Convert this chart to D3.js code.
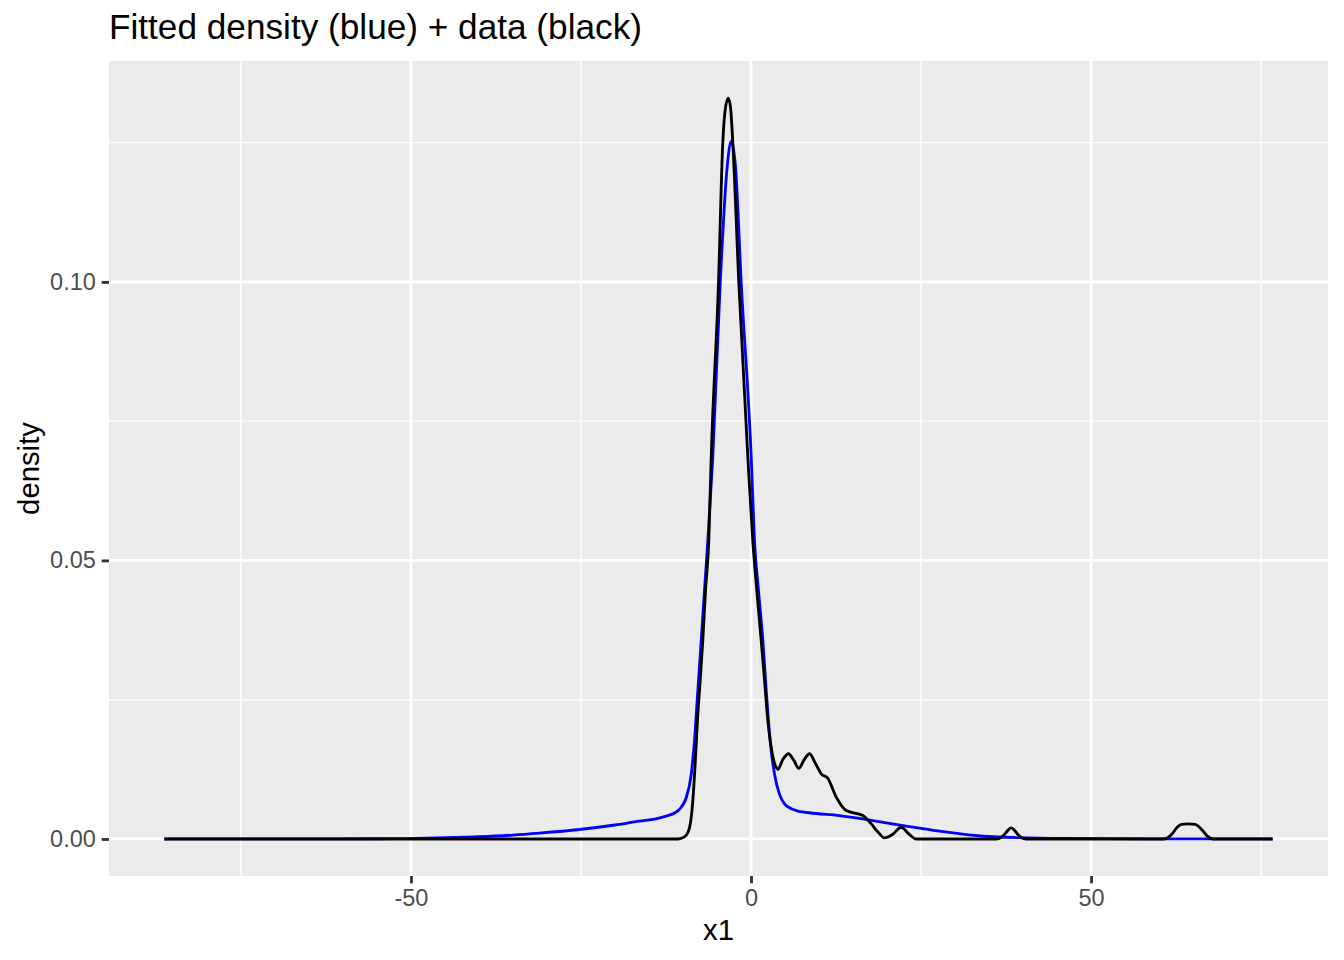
<!DOCTYPE html>
<html>
<head>
<meta charset="utf-8">
<script src="https://cdn.jsdelivr.net/npm/d3@7"></script>
<style>
  body { margin: 0; background: #fff; }
  text { font-family: "Liberation Sans", Arial, Helvetica, sans-serif; }
</style>
</head>
<body>
<div id="chart"></div>
<script>
// fitted density (blue)
var blueX = [-86.25, -60, -52.7, -46.3, -40, -35, -31.1, -25.2, -20, -16.4, -14, -12.47, -11.5, -10.8, -10.26, -9.53,
  -8.79, -8.31, -7.82, -7.32, -6.84, -6.35, -5.62, -4.53, -3.5, -2.91, -2.28, -1.44, 0.03, 0.51, 1.1, 1.74,
  2.24, 2.82, 3.46, 4.19, 4.93, 5.66, 6.65, 8.6, 13.01, 17.91, 22.82, 27.72, 35.56, 46.35, 60.96, 76.69];
var blueY = [0, 0.00002, 0.00005, 0.0002, 0.0004, 0.0007, 0.00105, 0.0017, 0.0025, 0.0032, 0.0036, 0.0041, 0.0045, 0.0050, 0.0057, 0.0074,
  0.0116, 0.0176, 0.0266, 0.0356, 0.0446, 0.0535, 0.0686, 0.0998, 0.1207, 0.1252, 0.1207, 0.0998, 0.0686, 0.0535, 0.0446, 0.0356,
  0.0266, 0.0176, 0.0116, 0.008, 0.0063, 0.0056, 0.0051, 0.0047, 0.0042, 0.0033, 0.0023, 0.0014, 0.0004, 0.0001, 0.00002, 0];

// data density (black)
var blackX = [-86.25, -40, -10.8, -10.26, -9.44, -8.9, -8.56, -8.16, -7.82, -7.47, -7.09, -6.69, -6.21, -5.85, -4.78, -4.15, -3.75, -3.35,
  -3.01, -2.68, -1.79, -0.47, 0.26, 0.85, 1.5, 1.99, 2.47, 2.97, 3.71, 3.94, 4.7, 5.51, 6.3, 7.03, 7.8, 8.6, 9.5, 10.32, 11.29,
  12.53, 14.0, 16.44, 17.68, 18.7, 19.63, 20.8, 22.09, 23.2, 24.29,
  36.06, 36.8, 37.4, 37.8, 38.26, 38.7, 39.1, 39.7, 40.47,
  60.7, 61.9, 62.6, 63.3, 64.3, 65.3, 66.4, 67.1, 67.9, 76.69];
var blackY = [0, 0, 0, 0.0001, 0.0008, 0.0029, 0.0068, 0.0146, 0.0224, 0.0284, 0.0356, 0.0446, 0.0535, 0.0686, 0.0998, 0.125, 0.1313, 0.133,
  0.1313, 0.125, 0.0998, 0.0686, 0.0535, 0.0446, 0.0356, 0.0284, 0.0213, 0.0164, 0.0128, 0.0125, 0.0143, 0.0153, 0.0141, 0.0127, 0.0142, 0.0153, 0.0135, 0.0117, 0.0109,
  0.0075, 0.0051, 0.0042, 0.0027, 0.0012, 0.0002, 0.0008, 0.0021, 0.0009, 0,
  0, 0.0003, 0.001, 0.0016, 0.002, 0.0016, 0.001, 0.0003, 0,
  0, 0.0009, 0.002, 0.0026, 0.0027, 0.0026, 0.0015, 0.0005, 0, 0];

var xTicks = [-50, 0, 50];
var xMinor = [-75, -25, 25, 75];
var xTickLabels = ["-50", "0", "50"];
var yTicks = [0, 0.05, 0.10];
var yMinor = [0.025, 0.075, 0.125];
var yTickLabels = ["0.00", "0.05", "0.10"];

var W = 1344, H = 960;
var panel = {left: 109, right: 1328, top: 61, bottom: 876};

var svg = d3.select("#chart").append("svg")
  .attr("width", W)
  .attr("height", H);

// ggplot style 5% expansion
var allX = blueX.concat(blackX), allY = blueY.concat(blackY);
var xe = d3.extent(allX), ye = d3.extent(allY);
var xp = (xe[1] - xe[0]) * 0.05, yp = (ye[1] - ye[0]) * 0.05;

var x = d3.scaleLinear().domain([xe[0] - xp, xe[1] + xp]).range([panel.left, panel.right]);
var y = d3.scaleLinear().domain([ye[0] - yp, ye[1] + yp]).range([panel.bottom, panel.top]);

svg.append("rect")
  .attr("x", panel.left).attr("y", panel.top)
  .attr("width", panel.right - panel.left)
  .attr("height", panel.bottom - panel.top)
  .attr("fill", "#EBEBEB");

// minor grid
svg.selectAll(".xminor").data(xMinor).enter().append("line")
  .attr("x1", d => x(d)).attr("x2", d => x(d))
  .attr("y1", panel.top).attr("y2", panel.bottom)
  .attr("stroke", "#fff").attr("stroke-width", 1.42);
svg.selectAll(".yminor").data(yMinor).enter().append("line")
  .attr("x1", panel.left).attr("x2", panel.right)
  .attr("y1", d => y(d)).attr("y2", d => y(d))
  .attr("stroke", "#fff").attr("stroke-width", 1.42);

// major grid
svg.selectAll(".xmajor").data(xTicks).enter().append("line")
  .attr("x1", d => x(d)).attr("x2", d => x(d))
  .attr("y1", panel.top).attr("y2", panel.bottom)
  .attr("stroke", "#fff").attr("stroke-width", 2.84);
svg.selectAll(".ymajor").data(yTicks).enter().append("line")
  .attr("x1", panel.left).attr("x2", panel.right)
  .attr("y1", d => y(d)).attr("y2", d => y(d))
  .attr("stroke", "#fff").attr("stroke-width", 2.84);

// curves
var line = d3.line()
  .x(d => x(d[0]))
  .y(d => y(d[1]))
  .curve(d3.curveMonotoneX);

svg.append("path")
  .attr("d", line(d3.zip(blueX, blueY)))
  .attr("fill", "none").attr("stroke", "#0000FF")
  .attr("stroke-width", 2.84).attr("stroke-linejoin", "round");

svg.append("path")
  .attr("d", line(d3.zip(blackX, blackY)))
  .attr("fill", "none").attr("stroke", "#000")
  .attr("stroke-width", 2.84).attr("stroke-linejoin", "round");

// axes
var xAxis = d3.axisBottom(x).tickValues(xTicks).tickSize(7.3).tickPadding(5.9)
  .tickFormat((d, i) => xTickLabels[i]);
var yAxis = d3.axisLeft(y).tickValues(yTicks).tickSize(7.3).tickPadding(5.9)
  .tickFormat((d, i) => yTickLabels[i]);

var gx = svg.append("g")
  .attr("transform", "translate(0," + panel.bottom + ")")
  .call(xAxis);
var gy = svg.append("g")
  .attr("transform", "translate(" + panel.left + ",0)")
  .call(yAxis);

[gx, gy].forEach(function(g) {
  g.select(".domain").remove();
  g.selectAll(".tick line").attr("stroke", "#333333").attr("stroke-width", 2.84);
  g.selectAll(".tick text")
    .attr("fill", "#4D4D4D")
    .style("font-size", "23.5px")
    .style("font-family", "'Liberation Sans', Arial, sans-serif");
});

// titles
svg.append("text")
  .attr("x", panel.left).attr("y", 39)
  .style("font-size", "35.2px")
  .attr("fill", "#000")
  .text("Fitted density (blue) + data (black)");

svg.append("text")
  .attr("x", (panel.left + panel.right) / 2).attr("y", 940)
  .attr("text-anchor", "middle")
  .style("font-size", "29.3px")
  .text("x1");

svg.append("text")
  .attr("transform", "translate(39," + (panel.top + panel.bottom) / 2 + ") rotate(-90)")
  .attr("text-anchor", "middle")
  .style("font-size", "29.3px")
  .text("density");
</script>
</body>
</html>
